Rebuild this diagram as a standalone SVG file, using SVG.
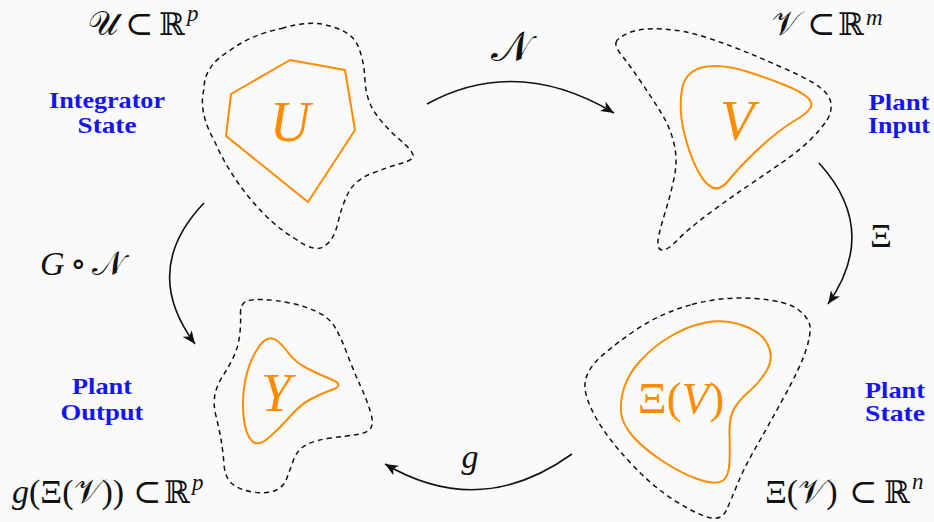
<svg xmlns="http://www.w3.org/2000/svg" width="934" height="522" viewBox="0 0 934 522">
<defs>
<style>
.bg{fill:#fafafa}
.dash{fill:none;stroke:#111;stroke-width:1.5;stroke-dasharray:5 4}
.set{fill:none;stroke:#ff8c00;stroke-width:2;stroke-linejoin:round}
.arr{fill:none;stroke:#111;stroke-width:1.6;marker-end:url(#ah)}
.math{font-family:"Liberation Serif","DejaVu Serif","DejaVu Sans",serif;font-size:34px;fill:#111}
.big{font-size:42px}
.it{font-style:italic}
.bb{font-size:31px}
.sup{font-size:23px;font-style:italic}
.lab{font-family:"Liberation Serif","DejaVu Serif",serif;font-weight:bold;font-size:23px;fill:#1414f5;text-anchor:middle}
.om{font-family:"Liberation Serif","DejaVu Serif",serif;fill:#ff8c00;text-anchor:middle}
</style>
<marker id="ah" markerUnits="userSpaceOnUse" markerWidth="14" markerHeight="12" viewBox="0 0 14 12" refX="13" refY="6" orient="auto">
<path d="M0,0.5 L13,6 L0,11.5 L3.5,6 Z" fill="#111"/>
</marker>
</defs>
<rect class="bg" x="0" y="0" width="934" height="522"/>

<g id="connectors">
<path class="arr" d="M427,104 Q517,55 614,113"/>
<path class="arr" d="M819,163 Q880,230 828,304"/>
<path class="arr" d="M572,454 Q480,520 385,464"/>
<path class="arr" d="M204,203 Q140,270 195,344"/>
<text class="math big" x="511" y="61" text-anchor="middle">𝒩</text>
<text class="math" x="881" y="247" text-anchor="middle">Ξ</text>
<text class="math it" x="470" y="468" text-anchor="middle">g</text>
<text class="math" x="40" y="275"><tspan class="it">G</tspan><tspan x="70">∘</tspan><tspan x="92">𝒩</tspan></text>
</g>

<g id="node-U">
<path class="dash" d="M281.5,28.5 Q313,19 332.5,27 Q352,32 358,46 Q364,60 365,80 Q366,100 375.5,113.5 Q385,127 398.5,138.5 Q412,150 413,155 Q414,160 401,163.5 Q388,167 371.5,173.5 Q355,180 348.5,192.5 Q342,205 338,222.5 Q334,240 325,245.5 Q316,254 294,238 Q272,225 250,198.5 Q228,172 214.5,141 Q198,112 204,89 Q204,66 228.5,51.5 Q250,35 281.5,28.5 Z"/>
<polygon class="set" points="290,60 345,70 355,130 308,202 226,136 231,94"/>
<text class="om it" x="290" y="141" font-size="56">U</text>
<text class="lab" x="107" y="108" textLength="116" lengthAdjust="spacingAndGlyphs">Integrator</text>
<text class="lab" x="107" y="133" textLength="59" lengthAdjust="spacingAndGlyphs">State</text>
<text class="math" x="88" y="35"><tspan>𝒰</tspan><tspan x="125">⊂</tspan><tspan class="bb" x="159">ℝ</tspan><tspan class="sup" x="187" y="21">p</tspan></text>
</g>

<g id="node-V">
<path class="dash" d="M616,42.5 Q617,38 628.5,33 Q640,28 662,29 Q684,30 708,38 Q732,46 751,54 Q770,62 790,71 Q810,80 820,87.5 Q830,95 831,103.5 Q832,112 827,120 Q822,128 811,139 Q800,150 783.5,161.5 Q767,173 747,186.5 Q727,200 707,215 Q687,230 677.5,240 Q668,250 662.5,250 Q657,250 658,241 Q659,232 664.5,214.5 Q670,197 674,178.5 Q678,160 674,143.5 Q670,127 661,112.5 Q652,98 640,80.5 Q628,63 621.5,55 Q615,47 616,42.5 Z"/>
<path class="set" d="M682,89 Q684,78 692,72 Q700,66 715,66 Q730,66 748.5,72 Q767,78 783.5,84.5 Q800,91 807,97 Q814,103 810,108.5 Q806,114 795,120.5 Q784,127 772,137 Q760,147 748.5,158.5 Q737,170 728.5,180.5 Q720,191 712.5,187.5 Q705,184 698.5,172 Q692,160 687,143.5 Q682,127 681,113.5 Q680,100 682,89 Z"/>
<text class="om it" x="737" y="140" font-size="56">V</text>
<text class="lab" x="899" y="110" textLength="61" lengthAdjust="spacingAndGlyphs">Plant</text>
<text class="lab" x="899" y="133" textLength="62" lengthAdjust="spacingAndGlyphs">Input</text>
<text class="math" x="772" y="35"><tspan>𝒱</tspan><tspan x="807">⊂</tspan><tspan class="bb" x="838">ℝ</tspan><tspan class="sup" x="866" y="25">m</tspan></text>
</g>

<g id="node-XiV">
<path class="dash" d="M692,304.5 Q724,296 755.5,298.5 Q787,301 798,309.5 Q809,318 810,326.5 Q811,335 805.5,351.5 Q800,368 783.5,398 Q767,428 755.5,448 Q744,468 737.5,484 Q731,500 726.5,510 Q722,520 711,518 Q700,516 677,502 Q654,488 630.5,463 Q607,438 595.5,417 Q584,396 585,384 Q586,372 596.5,361 Q607,350 633.5,331.5 Q660,313 692,304.5 Z"/>
<path class="set" d="M706,322.5 Q724,319 743,325.5 Q762,332 768,345 Q774,358 767,370 Q760,382 748.5,392 Q737,402 733,411 Q729,420 729.5,434 Q730,448 729.5,462 Q729,476 723,480.5 Q717,485 700.5,480 Q684,475 664,462 Q644,449 633,436.5 Q622,424 621,412 Q620,400 624.5,386.5 Q629,373 641.5,359.5 Q654,346 671,336 Q688,326 706,322.5 Z"/>
<text class="om" x="681" y="413" font-size="45">Ξ(<tspan class="it">V</tspan>)</text>
<text class="lab" x="895" y="398" textLength="60" lengthAdjust="spacingAndGlyphs">Plant</text>
<text class="lab" x="895" y="421" textLength="60" lengthAdjust="spacingAndGlyphs">State</text>
<text class="math" x="765" y="503"><tspan>Ξ(𝒱)</tspan><tspan x="849">⊂</tspan><tspan class="bb" x="884">ℝ</tspan><tspan class="sup" x="912" y="489">n</tspan></text>
</g>

<g id="node-Y">
<path class="dash" d="M240.5,314.5 Q240,304 246,301.5 Q252,299 263.5,299.5 Q275,300 290,303 Q305,306 317.5,312 Q330,318 336,329 Q342,340 348,356 Q354,372 360.5,386 Q367,400 370.5,412 Q374,424 370.5,428.5 Q367,433 357,434.5 Q347,436 331,438 Q315,440 306,445 Q297,450 293.5,460 Q290,470 286.5,479 Q283,488 274,491 Q265,494 252.5,492 Q240,490 232.5,484 Q225,478 224,464.5 Q223,451 221,439.5 Q219,428 216,416 Q213,404 215,394.5 Q217,385 222.5,376.5 Q228,368 233,358 Q238,348 239.5,336.5 Q241,325 240.5,314.5 Z"/>
<path class="set" d="M264,341 Q270,336 276,340 Q282,344 288.5,353 Q295,362 306.5,368 Q318,374 331.5,379.5 Q345,385 332.5,389.5 Q320,394 310,399.5 Q300,405 290,416.5 Q280,428 269,437.5 Q258,447 252,441 Q246,435 244,420 Q242,405 244,388.5 Q246,372 252,359 Q258,346 264,341 Z"/>
<text class="om it" x="276" y="411" font-size="54">Y</text>
<text class="lab" x="102" y="394" textLength="60" lengthAdjust="spacingAndGlyphs">Plant</text>
<text class="lab" x="102" y="420" textLength="83" lengthAdjust="spacingAndGlyphs">Output</text>
<text class="math" x="12" y="503"><tspan class="it">g</tspan><tspan>(Ξ(𝒱))</tspan><tspan x="133">⊂</tspan><tspan class="bb" x="164">ℝ</tspan><tspan class="sup" x="192" y="490">p</tspan></text>
</g>
</svg>
